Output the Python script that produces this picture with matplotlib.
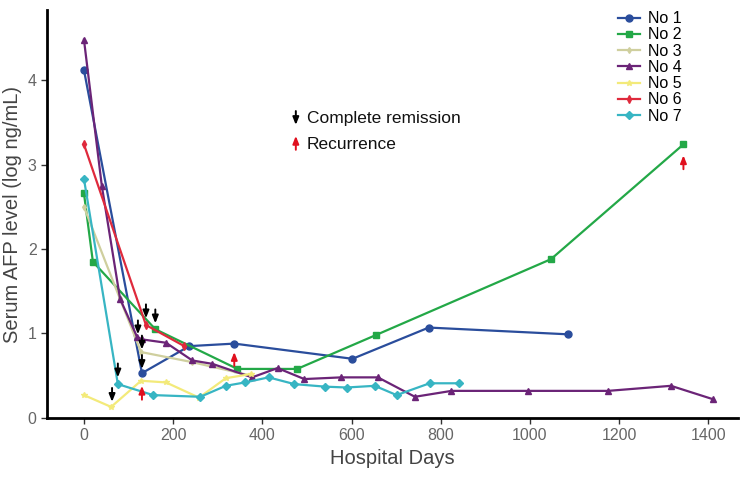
import matplotlib
matplotlib.use("Agg")
import matplotlib.pyplot as plt

plt.rcParams['font.family'] = ['Liberation Sans', 'DejaVu Sans']

# Datos (dias de hospital, log AFP)
dias_1 = [0, 130, 236, 337, 602, 773, 1085]
afp_1 = [4.12, 0.53, 0.85, 0.88, 0.70, 1.07, 0.99]

dias_2 = [0, 20, 160, 344, 478, 654, 1047, 1344]
afp_2 = [2.66, 1.85, 1.05, 0.58, 0.58, 0.98, 1.88, 3.24]

dias_3 = [0, 80, 128, 243, 375]
afp_3 = [2.50, 1.42, 0.78, 0.66, 0.50]

dias_4 = [0, 40, 81, 119, 130, 184, 243, 288, 377, 434, 494, 577, 659, 742, 824, 996, 1175, 1316, 1411]
afp_4 = [4.48, 2.75, 1.41, 0.96, 0.93, 0.89, 0.68, 0.64, 0.48, 0.59, 0.46, 0.48, 0.48, 0.25, 0.32, 0.32, 0.32, 0.38, 0.22]

dias_5 = [0, 61, 128, 184, 258, 318, 375]
afp_5 = [0.27, 0.13, 0.44, 0.42, 0.24, 0.47, 0.52]

dias_6 = [0, 139, 225]
afp_6 = [3.24, 1.10, 0.85]

dias_7 = [0, 76, 155, 261, 318, 361, 414, 472, 541, 589, 652, 701, 775, 841]
afp_7 = [2.83, 0.40, 0.27, 0.25, 0.38, 0.42, 0.48, 0.40, 0.37, 0.36, 0.38, 0.27, 0.41, 0.41]

# flechas: remision completa (negras) y recurrencia (rojas)
remision_dias = [139, 160, 121, 130, 130, 76, 63]
remision_afp = [1.18, 1.12, 0.99, 0.81, 0.58, 0.48, 0.19]
recurrencia_dias = [130, 337, 1344]
recurrencia_afp = [0.27, 0.67, 3.00]

series = [
    ("No 1", dias_1, afp_1, "#2a4d9c", "o", 5),
    ("No 2", dias_2, afp_2, "#23a847", "s", 5),
    ("No 3", dias_3, afp_3, "#cfcf9e", "d", 3),
    ("No 4", dias_4, afp_4, "#6b2477", "^", 4.5),
    ("No 5", dias_5, afp_5, "#f3ea7a", "*", 4),
    ("No 6", dias_6, afp_6, "#df2a3c", "d", 4),
    ("No 7", dias_7, afp_7, "#37b5c3", "D", 4.5),
]

fig = plt.figure(figsize=(7.45, 4.82), dpi=100)
ax = fig.add_axes([0.063, 0.133, 0.928, 0.846])

for nombre, x, y, color, marcador, tam in series:
    ax.plot(x, y, color=color, marker=marcador, markersize=tam, linewidth=1.6, label=nombre)


def flecha(x, y, color, abajo=True):
    # punta en (x, y) si abajo, si no la cola esta en (x, y)
    props = dict(arrowstyle='-|>,head_length=0.45,head_width=0.18', lw=1.4, color=color,
                 shrinkA=0, shrinkB=0, mutation_scale=10)
    off = 10 if abajo else -10
    ax.annotate("", xy=(x, y), xytext=(0, off), textcoords='offset points', arrowprops=props)


for d, v in zip(remision_dias, remision_afp):
    flecha(d, v, 'black')
for d, v in zip(recurrencia_dias, recurrencia_afp):
    flecha(d, v + 0.11, '#e0101e', abajo=False)

# leyenda de flechas
flecha(475, 3.47, 'black')
ax.text(500, 3.55, "Complete remission", fontsize=12.5, va='center', color='#111111')
flecha(475, 3.34, '#e0101e', abajo=False)
ax.text(500, 3.24, "Recurrence", fontsize=12.5, va='center', color='#111111')

ax.set_xlim(-83, 1467)
ax.set_ylim(0, 4.83)
ax.set_xticks(range(0, 1401, 200))
ax.set_yticks([0, 1, 2, 3, 4])
ax.tick_params(axis='both', labelsize=11.5, labelcolor='#666666', color='#333333', length=4, width=1)
for lado in ['top', 'right']:
    ax.spines[lado].set_visible(False)
for lado in ['left', 'bottom']:
    ax.spines[lado].set_linewidth(2)

ax.set_xlabel("Hospital Days", fontsize=14.5, color='#444444')
ax.set_ylabel("Serum AFP level (log ng/mL)", fontsize=14.5, color='#444444', labelpad=4)

ax.legend(loc='upper left', bbox_to_anchor=(0.81, 1.025), frameon=False, fontsize=11.5,
          handlelength=1.4, labelspacing=0.08, handletextpad=0.5, borderpad=0.2)

fig.savefig("out.png", dpi=100)
